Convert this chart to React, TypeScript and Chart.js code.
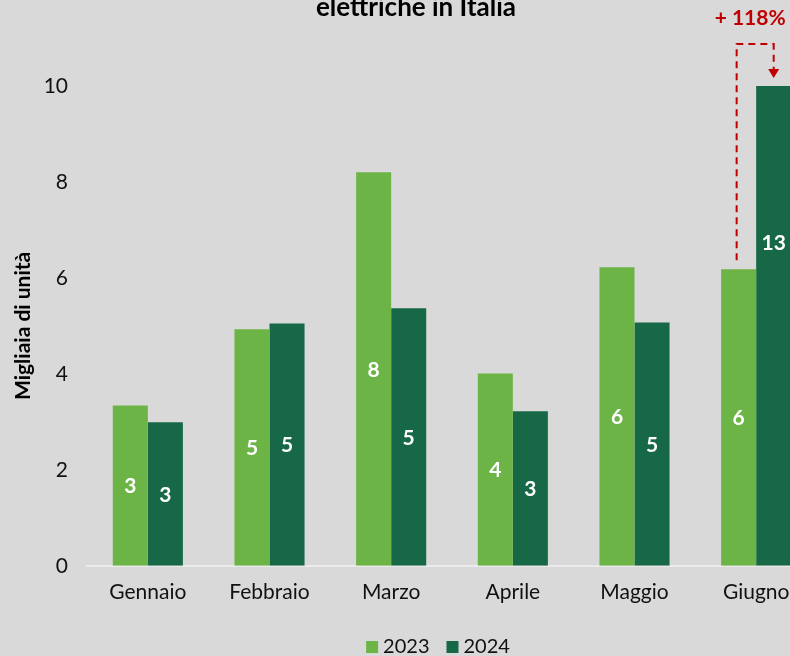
import React, { useEffect, useRef } from "react";
import { Chart, registerables } from "chart.js";

Chart.register(...registerables);

const categories = ["Gennaio", "Febbraio", "Marzo", "Aprile", "Maggio", "Giugno"];
const seriesNames = ["2023", "2024"];
const values2023 = [3.34, 4.93, 8.2, 4.01, 6.22, 6.18];
const values2024 = [2.99, 5.05, 5.37, 3.22, 5.07, 13.47];
const yTicks = [0, 2, 4, 6, 8, 10];
const titleText = "elettriche in Italia";
const yTitle = "Migliaia di unità";

const LIGHT = "#6db446";
const DARK = "#166846";
const RED = "#c00000";
const BG = "#d9d9d9";

const App: React.FC = () => {
  const ref = useRef<HTMLCanvasElement | null>(null);

  useEffect(() => {
    if (!ref.current) return;
    const overlay = {
      id: "overlay",
      afterDatasetsDraw(chart: any) {
        const ctx = chart.ctx;
        const y = chart.scales.y;
        ctx.save();
        // data labels
        ctx.fillStyle = "#ffffff";
        ctx.font = "bold 21px Lato";
        ctx.textAlign = "center";
        ctx.textBaseline = "middle";
        chart.data.datasets.forEach((ds: any, di: number) => {
          const meta = chart.getDatasetMeta(di);
          meta.data.forEach((bar: any, i: number) => {
            const v = ds.data[i] as number;
            ctx.fillText(String(Math.round(v)), bar.x, y.getPixelForValue(v / 2) + 1);
          });
        });
        // annotation on last category
        const last = categories.length - 1;
        const b0 = chart.getDatasetMeta(0).data[last];
        const b1 = chart.getDatasetMeta(1).data[last];
        const v0 = values2023[last];
        const v1 = values2024[last];
        const x1 = b0.x - 2;
        const x2 = b1.x;
        const topY = 44;
        const startY = y.getPixelForValue(v0) - 9;
        const tipY = chart.chartArea.top - 8;
        ctx.strokeStyle = RED;
        ctx.lineWidth = 2;
        ctx.setLineDash([7, 5]);
        ctx.beginPath();
        ctx.moveTo(x1, startY);
        ctx.lineTo(x1, topY);
        ctx.lineTo(x2, topY);
        ctx.lineTo(x2, tipY - 8);
        ctx.stroke();
        ctx.setLineDash([]);
        ctx.fillStyle = RED;
        ctx.beginPath();
        ctx.moveTo(x2 - 5.5, tipY - 9);
        ctx.lineTo(x2 + 5.5, tipY - 9);
        ctx.lineTo(x2, tipY);
        ctx.closePath();
        ctx.fill();
        const pct = Math.round((v1 / v0 - 1) * 100);
        ctx.font = "bold 21px Lato";
        ctx.textAlign = "center";
        ctx.textBaseline = "alphabetic";
        ctx.fillText("+ " + pct + "%", (x1 + x2) / 2 - 5, 25);
        ctx.restore();
      },
      afterDraw(chart: any) {
        const ctx = chart.ctx;
        ctx.save();
        // title (second line visible)
        ctx.fillStyle = "#000000";
        ctx.font = "bold 26px Lato";
        ctx.textAlign = "center";
        ctx.textBaseline = "alphabetic";
        ctx.fillText(titleText, 416, 16);
        // legend
        ctx.font = "20px Lato";
        ctx.textAlign = "left";
        const colors = [LIGHT, DARK];
        const gap = 17;
        const box = 12;
        const widths = seriesNames.map((n) => box + 5 + ctx.measureText(n).width);
        const total = widths.reduce((a, b) => a + b, 0) + gap * (widths.length - 1);
        let x = 438 - total / 2;
        const baseY = 653;
        seriesNames.forEach((n, i) => {
          ctx.fillStyle = colors[i];
          ctx.fillRect(x, baseY - box, box, box);
          ctx.fillStyle = "#111111";
          ctx.fillText(n, x + box + 5, baseY);
          x += widths[i] + gap;
        });
        ctx.restore();
      },
    };

    const chart = new Chart(ref.current, {
      type: "bar",
      data: {
        labels: categories,
        datasets: [
          { label: seriesNames[0], data: values2023, backgroundColor: LIGHT, barPercentage: 1, categoryPercentage: 0.576 },
          { label: seriesNames[1], data: values2024, backgroundColor: DARK, barPercentage: 1, categoryPercentage: 0.576 },
        ],
      },
      options: {
        responsive: false,
        animation: false,
        devicePixelRatio: 1,
        layout: { padding: { top: 86, right: 15, bottom: 37, left: 0 } },
        plugins: {
          legend: { display: false },
          title: { display: false },
          tooltip: { enabled: false },
        },
        scales: {
          x: {
            grid: { display: false, drawTicks: false },
            border: { display: true, color: "#ebebeb", width: 2 },
            ticks: { color: "#111111", font: { family: "Lato", size: 21 }, padding: 14 },
          },
          y: {
            min: 0,
            max: 10,
            afterBuildTicks: (s: any) => {
              s.ticks = yTicks.map((v) => ({ value: v }));
            },
            afterFit: (s: any) => {
              s.width = 87;
            },
            grid: { display: false, drawTicks: false },
            border: { display: false },
            ticks: { color: "#111111", font: { family: "Lato", size: 21 }, padding: 19 },
            title: {
              display: true,
              text: yTitle,
              color: "#000000",
              font: { family: "Lato", size: 21, weight: "bold" },
              padding: { top: 11, bottom: 0 },
            },
          },
        },
      },
      plugins: [overlay],
    });
    return () => chart.destroy();
  }, []);

  return (
    <div style={{ position: "fixed", left: 0, top: 0, width: 790, height: 656, overflow: "hidden", background: BG }}>
      <canvas ref={ref} width={832} height={656} style={{ display: "block", width: 832, height: 656 }} />
    </div>
  );
};

export default App;
